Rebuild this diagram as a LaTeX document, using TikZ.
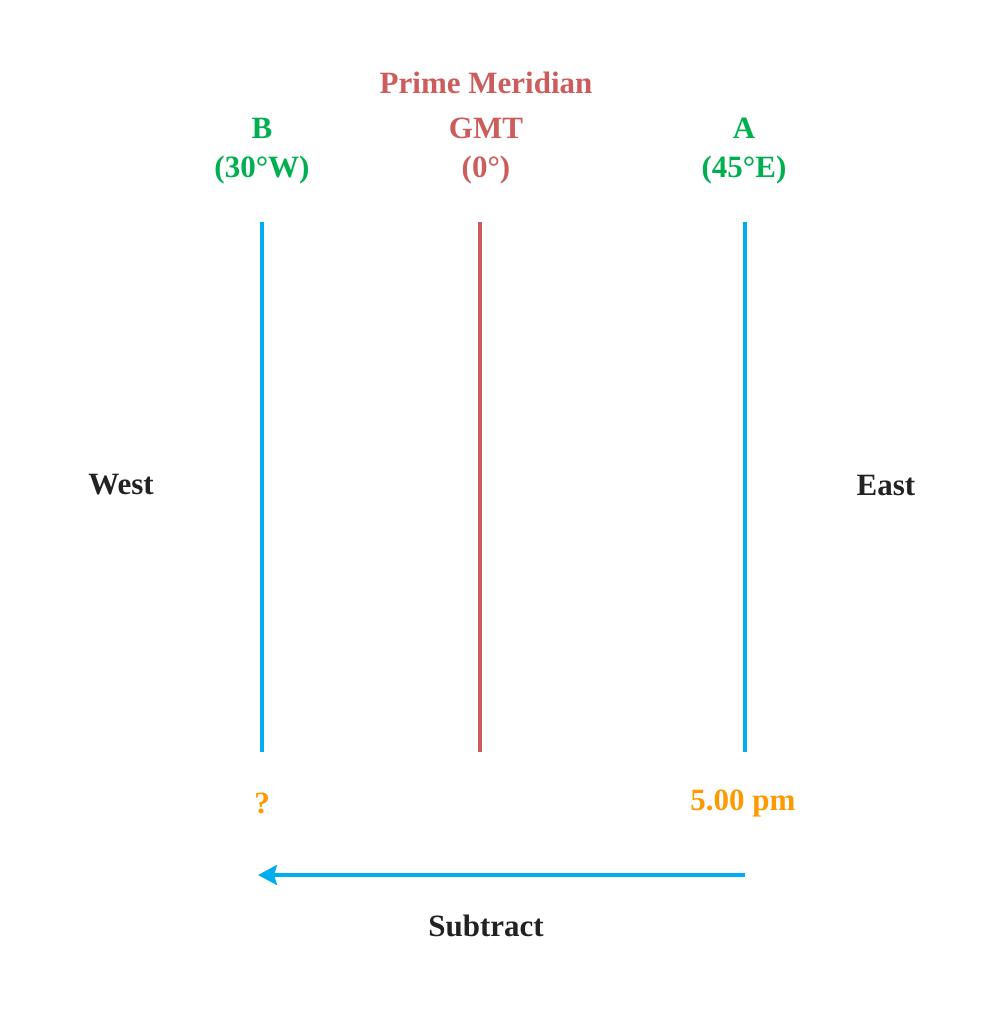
\documentclass[tikz,border=0pt]{standalone}
\usepackage{fontspec}
\setmainfont{Liberation Serif}
\usepackage{tikz}
\usetikzlibrary{arrows.meta}

\definecolor{lineblue}{RGB}{0,174,239}
\definecolor{meridred}{RGB}{205,92,92}
\definecolor{placegreen}{RGB}{0,176,80}
\definecolor{timeorange}{RGB}{255,153,0}
\definecolor{textblack}{RGB}{34,34,34}

\tikzset{lbl/.style={font=\fontsize{31}{36}\selectfont\bfseries,inner sep=0pt}}

\begin{document}
\begin{tikzpicture}[x=1pt,y=-1pt]
\useasboundingbox (0,0) rectangle (991,1024);
\path node (pm) at (486,83) [lbl,text=meridred] {Prime Meridian}
      node (gmt) at (486,128) [lbl,text=meridred] {GMT}
      node (zero) at (486,170) [lbl,text=meridred] {(0°)}
      node (b) at (262,128) [lbl,text=placegreen] {B}
      node (blon) at (262,170) [lbl,text=placegreen] {(30°W)}
      node (a) at (744,128) [lbl,text=placegreen] {A}
      node (alon) at (744,170) [lbl,text=placegreen] {(45°E)}
      node (west) at (121,485) [lbl,text=textblack] {West}
      node (east) at (886,485) [lbl,text=textblack] {East}
      node (qm) at (262,803) [lbl,text=timeorange] {?}
      node (time) at (743,803) [lbl,text=timeorange] {5.00 pm}
      node (sub) at (486,926) [lbl,text=textblack] {Subtract};
\coordinate (btop) at (262,222);
\coordinate (bbot) at (262,752);
\coordinate (gtop) at (480,222);
\coordinate (gbot) at (480,752);
\coordinate (atop) at (745,222);
\coordinate (abot) at (745,752);
\coordinate (from) at (745,875);
\coordinate (to) at (258,875);
\draw [lineblue,line width=3.5pt] (btop) to (bbot);
\draw [meridred,line width=3.5pt] (gtop) to (gbot);
\draw [lineblue,line width=3.5pt] (atop) to (abot);
\draw [-{Stealth[length=19pt,width=20pt,inset=3pt]},lineblue,line width=3.5pt] (from) to (to);
\end{tikzpicture}
\end{document}
